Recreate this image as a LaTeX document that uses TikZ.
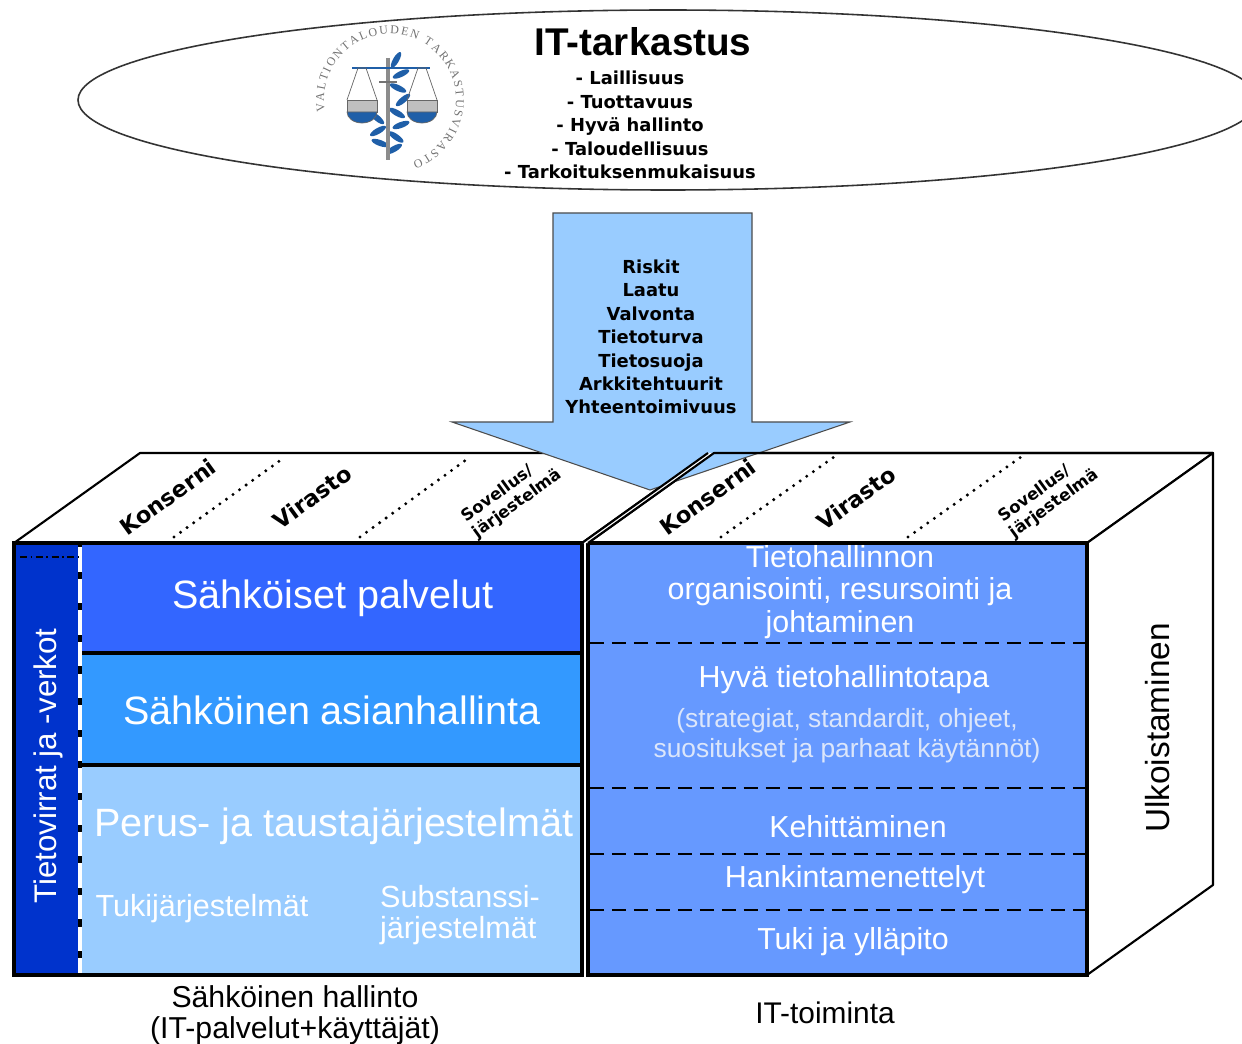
\documentclass[tikz,border=0pt]{standalone}
\usepackage{fontspec}
\setmainfont{Liberation Sans}
\newfontfamily\boldfam{DejaVu Sans}
\newfontfamily\logofam{Liberation Serif}
\usetikzlibrary{positioning,decorations.text}

\definecolor{stripblue}{HTML}{0033CC}
\definecolor{servblue}{HTML}{3366FF}
\definecolor{caseblue}{HTML}{3399FF}
\definecolor{baseblue}{HTML}{99CCFF}
\definecolor{itblue}{HTML}{6699FF}
\definecolor{noteblue}{HTML}{DCE6FA}
\definecolor{logoblue}{HTML}{1F5FA8}

\tikzset{
  face/.style={draw=black, line width=2pt},
  topface/.style={draw=black, fill=white, line width=1.2pt, line join=round},
  rowline/.style={line width=1.8pt},
  itdash/.style={line width=1.5pt, dash pattern=on 8pt off 4.5pt},
  dotline/.style={line width=1.9pt, dash pattern=on 0pt off 4.6pt, line cap=round},
  rowtext/.style={text=white, font=\fontsize{22.5}{26}\selectfont, align=center},
  ittext/.style={text=white, font=\fontsize{17.3}{18.4}\selectfont, align=center},
  toplabel/.style={font=\boldfam\bfseries\fontsize{12.8}{14}\selectfont, rotate=36},
  topsmall/.style={font=\boldfam\bfseries\fontsize{9.4}{11}\selectfont, rotate=36, align=left},
  listtext/.style={font=\boldfam\bfseries\fontsize{10.2}{13.3}\selectfont, align=center},
  leaf/.style={fill=logoblue}
}

\begin{document}
\begin{tikzpicture}[x=0.02cm, y=-0.02cm]
  \useasboundingbox (0,0) rectangle (1242,1044);
  \clip (0,0) rectangle (1242,1044);

  % audit ellipse
  \draw [black!80, line width=0.9pt, fill=white] (668,100) ellipse [x radius=590, y radius=90];

  % logo
  \coordinate (logo) at (390,100);
  \path [decorate, decoration={text along path, text align={fit to path},
        text={|\logofam\fontsize{6.8}{7}\selectfont\color{black!55}|VALTIONTALOUDEN TARKASTUSVIRASTO}}]
        (logo) ++(-190:66) arc [start angle=-190, end angle=70, radius=66];
  \foreach \lx/\ly/\la in {396/60/60, 401/74/25, 398/88/-25, 403/100/40, 397/113/-30,
                          401/125/20, 377/118/-40, 378/131/30, 396/137/-35, 380/143/-20, 394/149/30}
    \fill [leaf, rotate around={\la:(\lx,\ly)}] (\lx,\ly) ellipse [x radius=9, y radius=3];
  \draw [black!45, line width=2.2pt] (388,58) -- (388,160);
  \draw [black!55, line width=1.2pt] (379,82) -- (397,82);
  \draw [logoblue, line width=1.6pt] (352,68) -- (430,68);
  \foreach \px in {362,422}{
    \draw [black!60, line width=0.4pt] (\px-15,100) -- (\px-4,68) -- (\px+4,68) -- (\px+15,100);
    \filldraw [fill=black!25, draw=black!60, line width=0.4pt] (\px-15,100) rectangle (\px+15,112);
    \filldraw [fill=logoblue, draw=black!60, line width=0.4pt] (\px-15,112)
      arc [start angle=180, end angle=0, x radius=15, y radius=11] -- cycle;
  }

  \node [font=\bfseries\fontsize{22}{26}\selectfont] (ittark) at (643,42) {IT-tarkastus};
  \node [listtext] (criteria) at (630,125) {- Laillisuus\\- Tuottavuus\\- Hyvä hallinto\\- Taloudellisuus\\- Tarkoituksenmukaisuus};

  % top faces of the two blocks
  \coordinate (lfl) at (14,543);  \coordinate (lfr) at (582,543);
  \coordinate (lbr) at (708,453); \coordinate (lbl) at (140,453);
  \coordinate (rfl) at (588,543); \coordinate (rfr) at (1087,543);
  \coordinate (rbr) at (1213,453); \coordinate (rbl) at (714,453);
  \filldraw [topface] (lfl) -- (lfr) -- (lbr) -- (lbl) -- cycle;
  \filldraw [topface] (rfl) -- (rfr) -- (rbr) -- (rbl) -- cycle;
  \filldraw [topface] (rfr) -- (rbr) -- (1213,885) -- (1087,975) -- cycle;

  \draw [dotline] (174,537) -- (285,457);
  \draw [dotline] (360,537) -- (470,457);
  \draw [dotline] (721,537) -- (834,457);
  \draw [dotline] (908,537) -- (1021,457);
  \node [toplabel] (lgroup) at (168,497) {Konserni};
  \node [toplabel] (lagency) at (312,497) {Virasto};
  \node [topsmall] (lsystem) at (512,496) {Sovellus/\\järjestelmä};

  % left block front
  \fill [stripblue] (14,543) rectangle (80,975);
  \fill [servblue] (80,543) rectangle (582,653);
  \fill [caseblue] (80,653) rectangle (582,765);
  \fill [baseblue] (80,765) rectangle (582,975);
  \draw [rowline] (80,653) -- (582,653);
  \draw [rowline] (80,765) -- (582,765);
  \draw [black, line width=2pt] (80,543) -- (80,975);
  \draw [white, line width=2pt, dash pattern=on 14pt off 4pt] (80,547) -- (80,975);
  \draw [black, line width=0.6pt, dash pattern=on 4pt off 2pt on 1pt off 2pt] (20,557) -- (78,557);
  \draw [face] (14,543) rectangle (582,975);

  \node [rotate=90, text=white, font=\fontsize{17.8}{20}\selectfont] (flows) at (48,766) {Tietovirrat ja -verkot};
  \node [rowtext] (eserv) at (333,598) {Sähköiset palvelut};
  \node [rowtext] (ecase) at (332,710) {Sähköinen asianhallinta};
  \node [rowtext] (basesys) at (334,826) {Perus- ja taustajärjestelmät};
  \node [text=white, font=\fontsize{17.4}{17.6}\selectfont] (supsys) at (202,909) {Tukijärjestelmät};
  \node [text=white, font=\fontsize{17.4}{17.6}\selectfont, align=left] (subsys) at (460,915) {Substanssi-\\järjestelmät};

  % right block front
  \fill [itblue] (588,543) rectangle (1087,975);
  \draw [itdash] (590,643) -- (1085,643);
  \draw [itdash] (590,788) -- (1085,788);
  \draw [itdash] (590,854) -- (1085,854);
  \draw [itdash] (590,910) -- (1085,910);
  \draw [face] (588,543) rectangle (1087,975);

  \node [ittext] (itorg) at (840,592) {Tietohallinnon\\organisointi, resursointi ja\\johtaminen};
  \node [ittext] (itgood) at (844,680) {Hyvä tietohallintotapa};
  \node [text=noteblue, font=\fontsize{15}{17}\selectfont, align=center] (itnote) at (847,736) {(strategiat, standardit, ohjeet,\\suositukset ja parhaat käytännöt)};
  \node [ittext] (itdev) at (858,827) {Kehittäminen};
  \node [ittext] (itproc) at (855,880) {Hankintamenettelyt};
  \node [ittext] (itsupp) at (853,942) {Tuki ja ylläpito};
  \node [rotate=90, font=\fontsize{19}{22}\selectfont] (outsrc) at (1158,728) {Ulkoistaminen};

  % big arrow
  \filldraw [fill=baseblue, draw=black!70, line width=0.6pt] (553,213) -- (752,213) -- (752,422)
        -- (850,422) -- (650,490) -- (452,422) -- (553,422) -- cycle;
  \node [listtext] (aspects) at (651,337) {Riskit\\Laatu\\Valvonta\\Tietoturva\\Tietosuoja\\Arkkitehtuurit\\Yhteentoimivuus};

  % edges over the arrow
  \fill [white] (lfr) -- (lbr) -- (rbl) -- (rfl) -- cycle;
  \draw [line width=1.2pt] (lfr) -- (lbr);
  \draw [line width=1.2pt, line join=round] (rfl) -- (rbl) -- (rbr);
  \node [toplabel] (rgroup) at (708,497) {Konserni};
  \node [toplabel] (ragency) at (856,498) {Virasto};
  \node [topsmall] (rsystem) at (1049,496) {Sovellus/\\järjestelmä};

  % captions
  \coordinate (lbase) at (295,975);
  \node [below=4pt of lbase, inner sep=2pt, font=\fontsize{17.2}{17.6}\selectfont, align=center] (ehall) {Sähköinen hallinto\\(IT-palvelut+käyttäjät)};
  \node [font=\fontsize{17}{18}\selectfont] (itlabel) at (825,1013) {IT-toiminta};
\end{tikzpicture}
\end{document}
